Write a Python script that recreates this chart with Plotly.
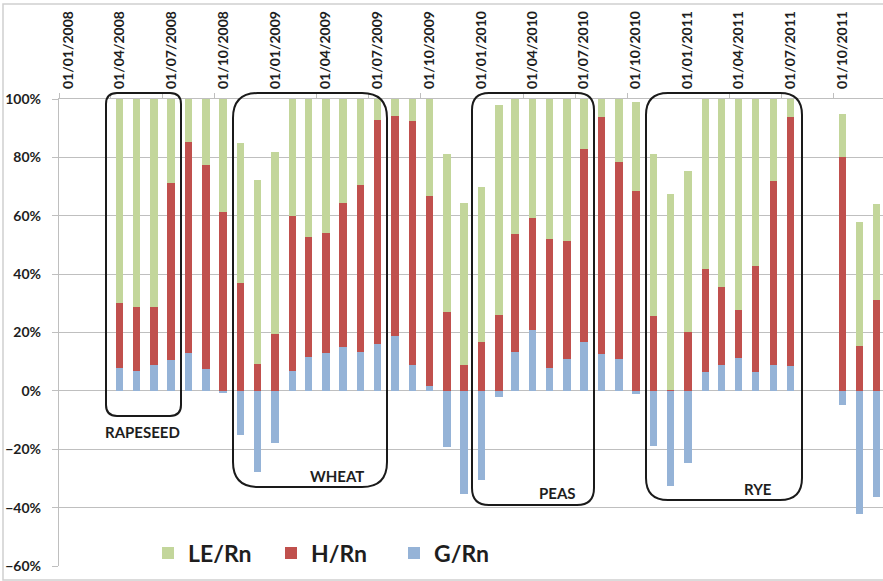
import plotly.graph_objects as go

# Monthly energy-balance partitioning (fraction of net radiation, %)
months = [
    "2008-04-01", "2008-05-01", "2008-06-01", "2008-07-01", "2008-08-01", "2008-09-01",
    "2008-10-01", "2008-11-01", "2008-12-01", "2009-01-01", "2009-02-01", "2009-03-01",
    "2009-04-01", "2009-05-01", "2009-06-01", "2009-07-01", "2009-08-01", "2009-09-01",
    "2009-10-01", "2009-11-01", "2009-12-01", "2010-01-01", "2010-02-01", "2010-03-01",
    "2010-04-01", "2010-05-01", "2010-06-01", "2010-07-01", "2010-08-01", "2010-09-01",
    "2010-10-01", "2010-11-01", "2010-12-01", "2011-01-01", "2011-02-01", "2011-03-01",
    "2011-04-01", "2011-05-01", "2011-06-01", "2011-07-01",
    "2011-10-01", "2011-11-01", "2011-12-01",
]
g_rn = [
    7.7, 6.7, 8.8, 10.6, 13.1, 7.5,
    -0.6, -15.2, -27.8, -18.0, 6.7, 11.7,
    12.9, 14.9, 13.4, 16.0, 18.9, 8.8,
    1.6, -19.2, -35.5, -30.4, -2.0, 13.4,
    21.0, 8.0, 10.9, 16.8, 12.5, 10.9,
    -1.1, -19.0, -32.7, -24.7, 6.3, 9.0,
    11.1, 6.3, 9.0, 8.5,
    -4.9, -42.3, -36.3,
]
h_rn = [
    22.5, 22.1, 19.8, 60.7, 72.0, 70.0,
    61.4, 37.0, 9.1, 19.4, 53.2, 41.1,
    41.3, 49.6, 57.1, 76.8, 75.4, 83.8,
    65.1, 27.1, 9.0, 16.6, 26.1, 40.3,
    38.1, 44.2, 40.4, 65.9, 81.4, 67.4,
    68.6, 25.6, 0.3, 20.2, 35.4, 26.7,
    16.7, 36.4, 62.9, 85.4,
    80.0, 15.3, 31.3,
]
le_rn = [
    69.8, 71.2, 71.4, 28.7, 14.9, 22.5,
    38.6, 47.8, 63.0, 62.5, 40.1, 47.2,
    45.8, 35.5, 29.5, 7.2, 5.7, 7.4,
    33.3, 54.0, 55.5, 53.1, 71.8, 46.3,
    40.9, 47.8, 48.7, 17.3, 6.1, 21.7,
    30.3, 55.4, 67.1, 55.1, 58.3, 64.3,
    72.2, 57.3, 28.1, 6.1,
    14.7, 42.6, 32.6,
]

quarter_ticks = [f"{y}-{m:02d}-01" for y in range(2008, 2012) for m in (1, 4, 7, 10)]
quarter_bounds = [f"{y}-{m:02d}-16" for y, m in
                  [(2007, 12)] + [(y, m) for y in range(2008, 2012) for m in (3, 6, 9)]]

crops = ["RAPESEED", "WHEAT", "PEAS", "RYE"]

FONT = "Lato"
GRID = "#BFBFBF"
TEXT = "#1E1E1E"
DAY_MS = 86400000

W, H = 883, 581
L, R, T, B = 59, 0, 99, 15
PW, PH = W - L - R, H - T - B


def px(x, y):
    """Pixel position on the page -> paper coordinates."""
    return (x - L) / PW, (H - B - y) / PH


def rounded_box(x0, y0, x1, y1, r):
    def p(x, y):
        u, v = px(x, y)
        return f"{u:.5f},{v:.5f}"
    return (f"M{p(x0 + r, y0)} L{p(x1 - r, y0)} Q{p(x1, y0)} {p(x1, y0 + r)} "
            f"L{p(x1, y1 - r)} Q{p(x1, y1)} {p(x1 - r, y1)} "
            f"L{p(x0 + r, y1)} Q{p(x0, y1)} {p(x0, y1 - r)} "
            f"L{p(x0, y0 + r)} Q{p(x0, y0)} {p(x0 + r, y0)} Z")


fig = go.Figure()
bar_w = 13 * DAY_MS
fig.add_bar(x=months, y=g_rn, name="G/Rn", marker_color="#95B3D7",
            marker_line_width=0, width=bar_w)
fig.add_bar(x=months, y=h_rn, name="H/Rn", marker_color="#C0504D",
            marker_line_width=0, width=bar_w)
fig.add_bar(x=months, y=le_rn, name="LE/Rn", marker_color="#C3D69B",
            marker_line_width=0, width=bar_w)

shapes = []
# outer chart border
bx0, by1 = px(3, 4)
bx1, by0 = px(892, 580)
shapes.append(dict(type="rect", xref="paper", yref="paper", x0=bx0, x1=bx1,
                   y0=by0, y1=by1, line=dict(color="#D0D0D0", width=1.5),
                   layer="below"))

# rounded callout frames around each crop season
boxes = [
    (106, 93, 181, 416, 11),
    (233, 93, 387, 487, 25),
    (472, 93, 594, 505, 17),
    (646, 93, 802, 500, 22),
]
for b in boxes:
    shapes.append(dict(type="path", xref="paper", yref="paper",
                       path=rounded_box(*b), line=dict(color="#1A1A1A", width=2)))

label_pos = [(142, 432), (337, 476), (557, 493), (758, 489)]
annotations = []
for name, (lx, ly) in zip(crops, label_pos):
    u, v = px(lx, ly)
    annotations.append(dict(text=name, x=u, y=v, xref="paper", yref="paper",
                            showarrow=False, xanchor="center", yanchor="middle",
                            font=dict(family=FONT, size=15, color=TEXT, weight="bold")))

lx, ly = px(148, 553)
fig.update_layout(
    width=W, height=H,
    margin=dict(l=L, r=R, t=T, b=B),
    paper_bgcolor="white", plot_bgcolor="white",
    barmode="relative", bargap=0,
    font=dict(family=FONT, color=TEXT),
    showlegend=True,
    legend=dict(orientation="h", traceorder="reversed", x=lx, y=ly,
                xanchor="left", yanchor="middle", bgcolor="rgba(0,0,0,0)",
                font=dict(family=FONT, size=23, color=TEXT, weight="bold"),
                itemwidth=30, entrywidth=78, entrywidthmode="pixels"),
    shapes=shapes,
    annotations=annotations,
)
fig.update_xaxes(
    type="date", side="top", range=["2007-12-16", "2011-12-12"],
    tickmode="array", tickvals=quarter_ticks, tickformat="%d/%m/%Y",
    tickangle=-90, ticks="", showgrid=False,
    showline=True, linecolor=GRID, linewidth=1.3,
    tickfont=dict(family=FONT, size=14, color=TEXT, weight="bold"),
    ticklabelstandoff=6,
    minor=dict(tickmode="array", tickvals=quarter_bounds, ticks="outside",
               ticklen=5, tickcolor=GRID, tickwidth=1.3, showgrid=False),
)
fig.update_yaxes(
    range=[-60, 100], tickmode="linear", tick0=0, dtick=20, ticksuffix="%",
    showgrid=True, gridcolor=GRID, gridwidth=1.3,
    zeroline=True, zerolinecolor=GRID, zerolinewidth=1.3,
    showline=True, linecolor=GRID, linewidth=1.3,
    ticks="outside", ticklen=6, tickcolor=GRID, tickwidth=1.3,
    tickfont=dict(family=FONT, size=14, color=TEXT, weight="bold"),
    ticklabelstandoff=8,
)

fig.write_html("out.html")
